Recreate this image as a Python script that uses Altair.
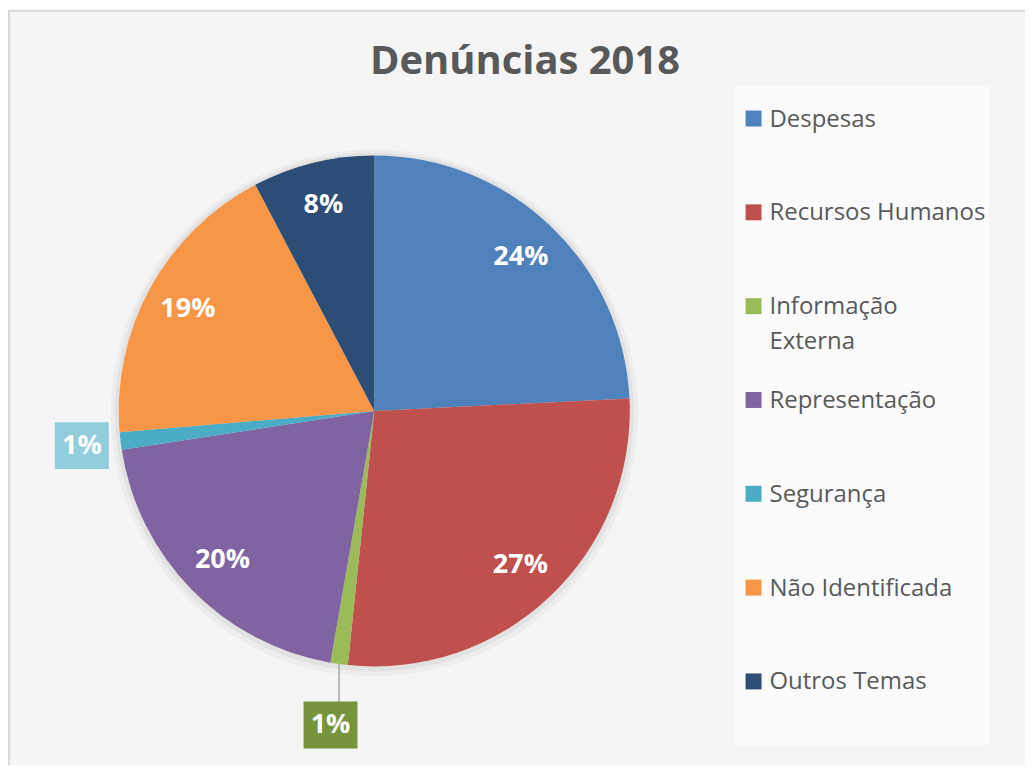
import altair as alt
import pandas as pd

# ---- data ----
categories = ["Despesas", "Recursos Humanos", "Informação Externa", "Representação",
              "Segurança", "Não Identificada", "Outros Temas"]
values = [24.2, 27.4, 1.1, 19.8, 1.1, 18.6, 7.7]
pct_labels = ["24%", "27%", "1%", "20%", "1%", "19%", "8%"]
title_text = "Denúncias 2018"

# ---- styles ----
colors = ["#4F81BD", "#C0504D", "#9BBB59", "#8064A2", "#4BACC6", "#F79646", "#2C4D75"]
label_box_colors = {"Informação Externa": "#77933C", "Segurança": "#92CDDC"}
FONT = "Open Sans"
TEXT_GREY = "#595959"

W, H = 1018, 757
CX, CY, R = 366, 402, 256
R_IN = 213
LEG_X, LEG_TOP, LEG_STEP = 746, 109, 94

df = pd.DataFrame({
    "cat": categories,
    "value": values,
    "label": pct_labels,
    "idx": list(range(len(categories))),
})
df["box"] = df["cat"].map(label_box_colors).fillna("none")

color_scale = alt.Scale(domain=categories, range=colors)

base = (
    alt.Chart(df)
    .transform_joinaggregate(total="sum(value)")
    .transform_window(cum="sum(value)", sort=[alt.SortField("idx")])
    .transform_calculate(
        mid="2*PI*(datum.cum - datum.value/2)/datum.total",
        small="datum.value < 2",
    )
    .transform_calculate(
        rlab=f"datum.small ? 292 + 26*abs(cos(datum.mid)) : {R_IN}",
    )
    .transform_calculate(
        lx=f"{CX} + datum.rlab*sin(datum.mid)",
        ly=f"{CY} - datum.rlab*cos(datum.mid)",
        ex=f"{CX} + {R}*sin(datum.mid)",
        ey=f"{CY} - {R}*cos(datum.mid)",
        legy=f"{LEG_TOP} + datum.idx*{LEG_STEP}",
        legtext="datum.cat == 'Informação Externa' ? 'Informação\\nExterna' : datum.cat",
    )
)

one = alt.Chart(pd.DataFrame({"k": [0]}))

shadow1 = one.mark_arc(radius=R + 8, fill="#000000", opacity=0.03).encode(
    x=alt.value(CX), y=alt.value(CY + 2), theta=alt.value(0), theta2=alt.value(6.2832)
)
shadow2 = one.mark_arc(radius=R + 4, fill="#000000", opacity=0.045).encode(
    x=alt.value(CX), y=alt.value(CY + 1), theta=alt.value(0), theta2=alt.value(6.2832)
)

pie = alt.Chart(df).mark_arc(radius=R).encode(
    x=alt.value(CX),
    y=alt.value(CY),
    theta=alt.Theta("value:Q", stack=True),
    color=alt.Color("cat:N", scale=color_scale, legend=None),
    order=alt.Order("idx:Q"),
)

leader = base.transform_filter("datum.small && abs(cos(datum.mid)) > 0.5").mark_rule(
    color="#A6A6A6", strokeWidth=1.5
).encode(
    x=alt.X("ex:Q", scale=None),
    y=alt.Y("ey:Q", scale=None),
    y2=alt.Y2("ly2:Q"),
).transform_calculate(ly2="datum.ly - 23")

boxes = base.transform_filter("datum.small").mark_point(
    shape="M-1,-0.87H1V0.87H-1Z", filled=True, opacity=1, size=54 * 54
).encode(
    x=alt.X("lx:Q", scale=None),
    y=alt.Y("ly:Q", scale=None),
    fill=alt.Fill("box:N", scale=None),
)

labels = base.mark_text(
    font=FONT, fontSize=27, fontWeight="bold", color="white", baseline="middle", align="center"
).encode(
    x=alt.X("lx:Q", scale=None),
    y=alt.Y("ly:Q", scale=None),
    text="label:N",
)

legend_box = one.mark_rect(fill="#ffffff", opacity=0.55).encode(
    x=alt.value(727), x2=alt.value(982), y=alt.value(77), y2=alt.value(737)
)

legend_sym = base.mark_point(shape="square", filled=True, opacity=1, size=256).encode(
    x=alt.value(LEG_X),
    y=alt.Y("legy:Q", scale=None),
    color=alt.Color("cat:N", scale=color_scale, legend=None),
)

legend_txt = base.mark_text(
    font=FONT, fontSize=24, color=TEXT_GREY, align="left", baseline="alphabetic",
    lineBreak="\n", lineHeight=35, dy=8,
).encode(
    x=alt.value(LEG_X + 16),
    y=alt.Y("legy:Q", scale=None),
    text="legtext:N",
)

title = one.mark_text(
    font=FONT, fontSize=40, fontWeight="bold", color=TEXT_GREY, align="center", baseline="middle"
).encode(x=alt.value(517), y=alt.value(52), text=alt.value(title_text))

border_top = one.mark_rule(color="#D9D9D9", strokeWidth=2).encode(
    x=alt.value(0), x2=alt.value(W), y=alt.value(1)
)
border_left = one.mark_rule(color="#D9D9D9", strokeWidth=2).encode(
    x=alt.value(0), y=alt.value(0), y2=alt.value(H)
)

chart = (
    alt.layer(shadow1, shadow2, pie, leader, boxes, labels, legend_box, legend_sym, legend_txt,
              title, border_top, border_left)
    .properties(width=W, height=H, padding=0, background="white")
    .configure_view(fill="#F5F5F5", strokeWidth=0)
)

chart.save("out.html", embed_options={"renderer": "svg", "actions": False})
